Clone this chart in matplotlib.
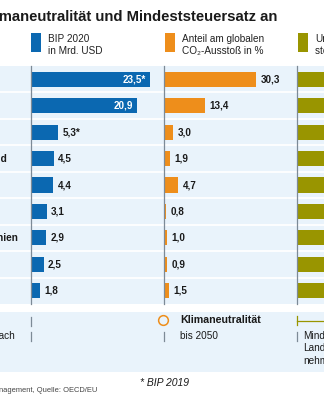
import matplotlib
matplotlib.use("Agg")
import matplotlib.pyplot as plt
from matplotlib.patches import Rectangle
from matplotlib.lines import Line2D

plt.rcParams['font.family'] = ['Liberation Sans', 'DejaVu Sans']

# data
countries = ['China', 'USA', 'Japan', 'Deutschland', 'Russland', 'Frankreich',
             'Großbritannien', 'Italien', 'Kanada']
bip = [23.5, 20.9, 5.3, 4.5, 4.4, 3.1, 2.9, 2.5, 1.8]
bip_labels = ['23,5*', '20,9', '5,3*', '4,5', '4,4', '3,1', '2,9', '2,5', '1,8']
co2 = [30.3, 13.4, 3.0, 1.9, 4.7, 0.8, 1.0, 0.9, 1.5]
co2_labels = ['30,3', '13,4', '3,0', '1,9', '4,7', '0,8', '1,0', '0,9', '1,5']
steuer = [25, 21, 30.6, 29.9, 20, 28.4, 19, 24, 26.5]

BLUE = '#0b68b1'
ORANGE = '#ee8e1b'
OLIVE = '#999500'
BG = '#e9f3fb'
AXC = '#7d8a96'
TXT = '#1a1a1a'

W, H = 324, 400


def fx(x):
    return x / W


def fy(y):
    return 1 - y / H


fig = plt.figure(figsize=(W / 100, H / 100), dpi=100)

# title (left part cut off like in the original crop)
fig.text(fx(277), fy(17), 'Klimaneutralität und Mindeststeuersatz an',
         ha='right', va='center', fontsize=10.7, fontweight='bold', color=TXT)

# legend
legend = [(31, BLUE, 'BIP 2020\nin Mrd. USD'),
          (165, ORANGE, 'Anteil am globalen\nCO₂-Ausstoß in %'),
          (298, OLIVE, 'Unternehmens-\nsteuersatz in %')]
for x0, c, txt in legend:
    fig.patches.append(Rectangle((fx(x0), fy(52)), 10 / W, 19 / H, transform=fig.transFigure,
                                 facecolor=c, edgecolor='none'))
    fig.text(fx(x0 + 17), fy(45), txt, ha='left', va='center', fontsize=7.2,
             color='#222222', linespacing=1.25)

# table background with white row separators
top, bot = 66, 304
bg = fig.add_axes([0, fy(bot), 1, (bot - top) / H])
bg.set_facecolor(BG)
bg.set_ylim(8.5, -0.5)
for i in range(8):
    bg.axhline(i + 0.5, color='white', lw=1.3)
bg.set_xticks([])
bg.set_yticks([])
for s in bg.spines.values():
    s.set_visible(False)

# row labels (column starts left of the visible crop)
for i, name in enumerate(countries):
    bg.text(fx(-54), i, name, transform=bg.get_yaxis_transform(), ha='left', va='center',
            fontsize=7.3, fontweight='bold', color=TXT)

columns = [(31, 164, 5.07, bip, BLUE, bip_labels, 10),
           (164, 297, 3.03, co2, ORANGE, co2_labels, 100),
           (297, 430, 3.5, steuer, OLIVE, None, 100)]
for left, right, scale, vals, c, labels, inside in columns:
    ax = fig.add_axes([fx(left), fy(bot), (right - left) / W, (bot - top) / H])
    ax.patch.set_alpha(0)
    ax.barh(range(len(vals)), vals, height=0.57, color=c)
    ax.set_xlim(0, (right - left) / scale)
    ax.set_ylim(8.5, -0.5)
    ax.set_xticks([])
    ax.set_yticks([])
    for k in ['top', 'right', 'bottom']:
        ax.spines[k].set_visible(False)
    ax.spines['left'].set_color(AXC)
    ax.spines['left'].set_linewidth(0.9)
    if labels:
        for i, (v, lab) in enumerate(zip(vals, labels)):
            if v > inside:
                ax.annotate(lab, (v, i), xytext=(-3, 0), textcoords='offset points',
                            ha='right', va='center', fontsize=7.1, fontweight='bold',
                            color='white')
            else:
                ax.annotate(lab, (v, i), xytext=(3.2, 0), textcoords='offset points',
                            ha='left', va='center', fontsize=7.1, fontweight='bold',
                            color=TXT)

# lower key panel
fig.patches.append(Rectangle((0, fy(372)), 1, 60 / H, transform=fig.transFigure,
                             facecolor=BG, edgecolor='none', zorder=0))
for x in (31, 164, 297):
    fig.add_artist(Line2D([fx(x), fx(x)], [fy(332), fy(341)], color=AXC, lw=0.9))
fig.add_artist(Line2D([fx(31), fx(31)], [fy(317), fy(326)], color=AXC, lw=0.9))
fig.add_artist(Line2D([fx(297), fx(297)], [fy(316), fy(325)], color=OLIVE, lw=0.9))
fig.add_artist(Line2D([fx(297), fx(330)], [fy(320.5), fy(320.5)], color=OLIVE, lw=0.9))
fig.add_artist(Line2D([fx(163)], [fy(320)], marker='o', markersize=7, mfc='none',
                      mec=ORANGE, mew=1.1))

fig.text(fx(15), fy(336), 'nach', ha='right', va='center', fontsize=7.2, color=TXT)
fig.text(fx(180), fy(320), 'Klimaneutralität', ha='left', va='center', fontsize=7.7,
         fontweight='bold', color=TXT)
fig.text(fx(180), fy(336), 'bis 2050', ha='left', va='center', fontsize=7.2, color=TXT)
fig.text(fx(303), fy(331), 'Mindeststeuer\nLandesweit\nnehmen', ha='left', va='top',
         fontsize=7.2, color=TXT, linespacing=1.3)

# footnotes
fig.text(fx(140), fy(383), '* BIP 2019', ha='left', va='center', fontsize=7.5,
         fontstyle='italic', color=TXT)
fig.text(fx(97), fy(390), 'Grafik: Management, Quelle: OECD/EU', ha='right', va='center',
         fontsize=5.4, color='#444444')

fig.savefig('out.png', dpi=100)
